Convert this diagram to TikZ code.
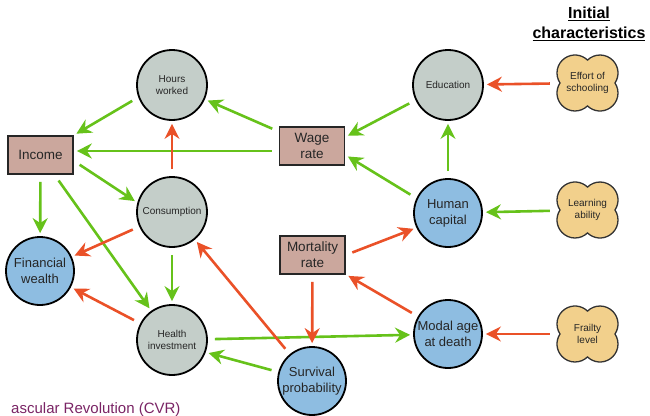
\documentclass[tikz,border=0pt]{standalone}
\usepackage{fontspec}
\setmainfont{Liberation Sans}
\usetikzlibrary{positioning, arrows.meta}

\definecolor{arrowgreen}{HTML}{66C21A}
\definecolor{arrowred}{HTML}{EA5128}
\definecolor{greyfill}{HTML}{C4CEC9}
\definecolor{bluefill}{HTML}{8EBDE1}
\definecolor{boxfill}{HTML}{CBA79D}
\definecolor{cloudfill}{HTML}{F2D08C}
\definecolor{cvrpurple}{HTML}{7A2465}

% four-lobed cloud round a point, then the named text node on top
\newcommand{\traitcloud}[3]{%
	\draw[cloudline] (#2) ++(27.47,0)
		arc[start angle=-33.7, end angle=134, radius=18]
		arc[start angle=46, end angle=213.7, radius=18]
		arc[start angle=146.3, end angle=314, radius=18]
		arc[start angle=226, end angle=393.7, radius=18] -- cycle;
	\node[traitbox] (#1) at (#2) {#3};}

\begin{document}
\begin{tikzpicture}[x=1pt, y=-1pt,
	smallcirc/.style={circle, draw=black, line width=1.8pt, fill=greyfill, minimum size=70pt, inner sep=0pt, align=center, text=black!85, font=\fontsize{10}{12.5}\selectfont},
	bigcirc/.style={circle, draw=black, line width=1.8pt, fill=bluefill, minimum size=68pt, inner sep=0pt, align=center, text=black!85, font=\fontsize{13}{16}\selectfont},
	ratebox/.style={rectangle, draw=black!85, line width=1.6pt, fill=boxfill, minimum width=65pt, minimum height=38pt, inner sep=0pt, align=center, text=black!85, font=\fontsize{13.5}{16}\selectfont},
	cloudline/.style={draw=black!80, line width=1.3pt, fill=cloudfill},
	traitbox/.style={rectangle, minimum width=61pt, minimum height=56pt, inner sep=0pt, align=center, text=black!85, font=\fontsize{10}{12.5}\selectfont},
	greenarrow/.style={-{Stealth[length=15pt, width=15pt, inset=5pt]}, line width=2.6pt, draw=arrowgreen, shorten <=7pt, shorten >=3pt},
	redarrow/.style={greenarrow, draw=arrowred}]
	
	\useasboundingbox (0,0) rectangle (650,415);
	
	% --- Decisions (grey) ---
	\node[smallcirc] (hours) at (172,85) {Hours\\worked};
	\node[smallcirc] (consumption) at (172,212) {Consumption};
	\node[smallcirc] (health) at (172,340) {Health\\investment};
	\node[smallcirc] (education) at (448,85) {Education};
	
	% --- States (blue) ---
	\node[bigcirc] (wealth) at (40,271) {Financial\\wealth};
	\node[bigcirc] (human) at (448,213) {Human\\capital};
	\node[bigcirc] (modal) at (448,334) {Modal age\\at death};
	\node[bigcirc] (survival) at (312,381) {Survival\\probability};
	
	% --- Prices and rates ---
	\node[ratebox] (income) at (40.5,155) {Income};
	\node[ratebox] (wage) at (312,146) {Wage\\rate};
	\node[ratebox] (mortality) at (312.5,255) {Mortality\\rate};
	
	% --- Initial characteristics ---
	\traitcloud{effort}{587.5,83}{Effort of\\schooling}
	\traitcloud{learning}{587.5,210}{Learning\\ability}
	\traitcloud{frailty}{587.5,334}{Frailty\\level}
	\node[align=center, font=\bfseries\fontsize{16}{20}\selectfont] (initial) at (589,24) {\underline{Initial}\\\underline{characteristics}};
	
	% cut-off slide text
	\node[anchor=base east, text=cvrpurple, font=\fontsize{15}{18}\selectfont] (cvr) at (184,413) {ascular Revolution (CVR)};
	\node[anchor=base east, text=cvrpurple, font=\fontsize{15}{18}\selectfont] (cut) at (4,366) {s};
	
	% --- Positive effects (green) ---
	\draw[greenarrow] (hours.200) -- (income.north east);
	\draw[greenarrow] (wage) -- (hours);
	\draw[greenarrow] ([yshift=-5pt]wage.west) -- ([yshift=-5pt]wage.west -| income.east);
	\draw[greenarrow] (income.-10) -- (consumption.165);
	\draw[greenarrow] (income) -- (wealth);
	\draw[greenarrow] (income) -- (health);
	\draw[greenarrow] (consumption) -- (health);
	\draw[greenarrow] (education.205) -- (wage.15);
	\draw[greenarrow] (human.155) -- (wage.-15);
	\draw[greenarrow] (human) -- (education);
	\draw[greenarrow] (learning) -- (human);
	\draw[greenarrow] (health) -- (modal);
	\draw[greenarrow] (survival.165) -- (health.-20);
	
	% --- Negative effects (red) ---
	\draw[redarrow] (consumption) -- (hours);
	\draw[redarrow] (consumption) -- (wealth);
	\draw[redarrow] (health) -- (wealth);
	\draw[redarrow] (survival) -- (consumption);
	\draw[redarrow] (mortality.east) -- (human.205);
	\draw[redarrow] (modal) -- (mortality);
	\draw[redarrow] (mortality) -- (survival);
	\draw[redarrow] (effort) -- (education);
	\draw[redarrow] (frailty) -- (modal);
	
\end{tikzpicture}
\end{document}
